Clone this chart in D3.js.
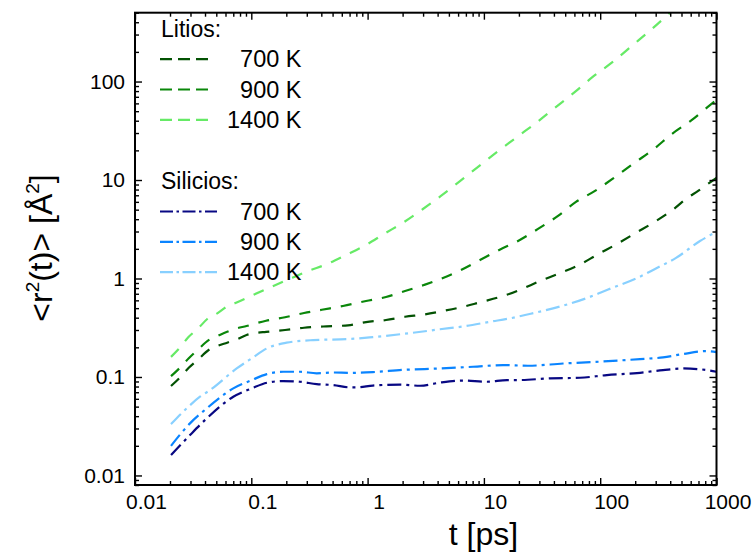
<!DOCTYPE html>
<html>
<head>
  <title>MSD</title>
  <script src="https://d3js.org/d3.v7.min.js"></script>
  <style>
    body { margin: 0; background: #fff; }
    text { font-family: "Liberation Sans", Arial, sans-serif; fill: #000; }
  </style>
</head>
<body>
  <div id="chart"></div>

  <script>
    // Li (dashed) and Si (dash-dot) mean square displacement, [t (ps), <r2> (A^2)]
    const li700 = [[0.0204,0.081],[0.024,0.097],[0.029,0.124],[0.035,0.151],[0.043,0.188],[0.051,0.206],[0.062,0.223],[0.075,0.241],[0.091,0.267],[0.11,0.28],[0.134,0.287],[0.195,0.300],[0.284,0.316],[0.443,0.327],[0.678,0.334],[0.969,0.361],[1.44,0.379],[2.10,0.409],[3.05,0.431],[4.45,0.468],[6.48,0.513],[9.44,0.577],[14.0,0.653],[20.2,0.764],[30.1,0.937],[44.0,1.12],[64.9,1.36],[94.8,1.75],[139,2.24],[203,2.91],[302,3.84],[431,5.1],[554,6.5],[700,7.8],[850,9.2],[1000,10.5]];
    const li900 = [[0.0204,0.102],[0.024,0.122],[0.029,0.155],[0.035,0.191],[0.043,0.237],[0.051,0.26],[0.062,0.288],[0.075,0.312],[0.091,0.329],[0.11,0.351],[0.134,0.372],[0.195,0.404],[0.284,0.446],[0.475,0.498],[0.614,0.526],[0.969,0.591],[1.44,0.649],[2.10,0.746],[3.05,0.859],[4.45,1.01],[6.35,1.22],[9.25,1.54],[13.8,1.97],[20.0,2.43],[29.2,3.19],[43.4,4.32],[61.9,5.99],[90.2,7.75],[134,10.7],[195,14.8],[290,20.7],[414,29.4],[615,40.8],[863,56.6],[1000,65]];
    const li1400 = [[0.0204,0.160],[0.024,0.195],[0.0287,0.253],[0.035,0.312],[0.0418,0.388],[0.051,0.443],[0.0614,0.517],[0.074,0.568],[0.099,0.664],[0.199,0.955],[0.307,1.19],[0.448,1.40],[0.652,1.73],[0.969,2.19],[1.38,2.83],[2.06,3.75],[2.99,5.08],[4.27,6.89],[6.11,9.57],[8.91,13.6],[13.0,19.3],[19.3,27.4],[28.1,38.0],[40.8,54.1],[60.7,78.5],[86.7,112],[129,159],[188,231],[273,335],[398,499],[1000,1300]];
    const si700 = [[0.0204,0.0161],[0.0297,0.0257],[0.0414,0.038],[0.070,0.063],[0.101,0.0766],[0.136,0.0873],[0.188,0.0909],[0.262,0.0894],[0.365,0.0847],[0.507,0.0827],[0.706,0.0784],[0.811,0.0784],[1.11,0.0818],[1.90,0.0837],[2.82,0.0815],[4.19,0.0877],[6.61,0.0919],[10.6,0.0894],[15.8,0.093],[20.4,0.0931],[37.0,0.0968],[67.0,0.0982],[114,0.1045],[207,0.1096],[347,0.1175],[515,0.122],[828,0.1175],[1000,0.113]];
    const si900 = [[0.0204,0.020],[0.0297,0.0338],[0.0414,0.048],[0.070,0.0766],[0.101,0.093],[0.136,0.107],[0.188,0.113],[0.262,0.113],[0.365,0.109],[0.507,0.111],[0.706,0.110],[1.11,0.112],[2.01,0.118],[4.19,0.122],[8.06,0.127],[14.6,0.132],[23.9,0.130],[47.9,0.137],[99.5,0.143],[220,0.152],[347,0.158],[515,0.171],[813,0.183],[1000,0.179]];
    const si1400 = [[0.0204,0.0332],[0.0278,0.048],[0.0362,0.063],[0.0442,0.0736],[0.0749,0.122],[0.101,0.155],[0.136,0.195],[0.201,0.223],[0.341,0.237],[0.706,0.243],[1.11,0.254],[2.32,0.279],[4.19,0.305],[7.01,0.329],[11.3,0.364],[16.8,0.394],[22.6,0.426],[46.9,0.526],[77.0,0.634],[117,0.773],[211,1.02],[296,1.25],[449,1.62],[721,2.40],[1000,2.99]];

    const xTicks = [0.01, 0.1, 1, 10, 100, 1000];
    const xTickLabels = ["0.01", "0.1", "1", "10", "100", "1000"];
    const yTicks = [0.01, 0.1, 1, 10, 100];
    const yTickLabels = ["0.01", "0.1", "1", "10", "100"];

    const liLabels = ["700 K", "900 K", "1400 K"];
    const siLabels = ["700 K", "900 K", "1400 K"];

    const series = [
      { data: li700, color: "#035203", dash: "11,10" },
      { data: li900, color: "#0a870a", dash: "11,10" },
      { data: li1400, color: "#66ea66", dash: "11,10" },
      { data: si1400, color: "#88d0ff", dash: "14,5,3,5" },
      { data: si900, color: "#0a84ff", dash: "14,5,3,5" },
      { data: si700, color: "#080883", dash: "14,5,3,5" },
    ];

    const width = 753;
    const height = 557;
    const margin = { top: 12.7, right: 36.5, bottom: 72, left: 135 };

    const svg = d3.select("#chart")
      .append("svg")
      .attr("width", width)
      .attr("height", height);

    const x = d3.scaleLog()
      .domain([0.01, 1000])
      .range([margin.left, width - margin.right]);

    const y = d3.scaleLog()
      .domain([0.008, 500])
      .range([height - margin.bottom, margin.top]);

    // minor ticks 2..9 of each decade inside the domain
    function minors(scale) {
      const [a, b] = scale.domain();
      const out = [];
      for (let e = -3; e <= 3; e++) {
        for (let m = 2; m <= 9; m++) {
          const v = m * Math.pow(10, e);
          if (v >= a * 0.999 && v <= b * 1.001) out.push(v);
        }
      }
      return out;
    }

    const x0 = margin.left, x1 = width - margin.right;
    const y0 = margin.top, y1 = height - margin.bottom;

    // clipped curves
    svg.append("clipPath").attr("id", "clip")
      .append("rect")
      .attr("x", x0).attr("y", y0)
      .attr("width", x1 - x0).attr("height", y1 - y0);

    const line = d3.line()
      .x(d => x(d[0]))
      .y(d => y(d[1]))
      .curve(d3.curveMonotoneX);

    svg.append("g")
      .attr("clip-path", "url(#clip)")
      .selectAll("path")
      .data(series)
      .join("path")
      .attr("d", d => line(d.data))
      .attr("fill", "none")
      .attr("stroke", d => d.color)
      .attr("stroke-width", 2.2)
      .attr("stroke-dasharray", d => d.dash);

    // axes: ticks point inward on all four sides
    function drawAxis(gen, tx, ty) {
      const g = svg.append("g")
        .attr("transform", `translate(${tx},${ty})`)
        .call(gen);
      g.select(".domain").remove();
      g.selectAll(".tick line").attr("stroke", "#000").attr("stroke-width", 1.4);
      return g;
    }

    const xBottom = drawAxis(
      d3.axisBottom(x).tickValues(xTicks).tickSize(-7).tickPadding(9)
        .tickFormat((d, i) => xTickLabels[i]), 0, y1);
    xBottom.selectAll("text").attr("font-size", 21).attr("dx", 11);
    drawAxis(d3.axisBottom(x).tickValues(minors(x)).tickSize(-4).tickFormat(""), 0, y1);
    drawAxis(d3.axisTop(x).tickValues(xTicks).tickSize(-7).tickFormat(""), 0, y0);
    drawAxis(d3.axisTop(x).tickValues(minors(x)).tickSize(-4).tickFormat(""), 0, y0);

    const yLeft = drawAxis(
      d3.axisLeft(y).tickValues(yTicks).tickSize(-7).tickPadding(10)
        .tickFormat((d, i) => yTickLabels[i]), x0, 0);
    yLeft.selectAll("text").attr("font-size", 21);
    drawAxis(d3.axisLeft(y).tickValues(minors(y)).tickSize(-4).tickFormat(""), x0, 0);
    drawAxis(d3.axisRight(y).tickValues(yTicks).tickSize(-7).tickFormat(""), x1, 0);
    drawAxis(d3.axisRight(y).tickValues(minors(y)).tickSize(-4).tickFormat(""), x1, 0);

    svg.append("rect")
      .attr("x", x0).attr("y", y0)
      .attr("width", x1 - x0).attr("height", y1 - y0)
      .attr("fill", "none")
      .attr("stroke", "#000")
      .attr("stroke-width", 2);

    // axis titles
    svg.append("text")
      .attr("x", 483.5)
      .attr("y", 545)
      .attr("text-anchor", "middle")
      .attr("font-size", 32)
      .text("t [ps]");

    const yt = svg.append("text")
      .attr("transform", "translate(52,248) rotate(-90)")
      .attr("text-anchor", "middle")
      .attr("font-size", 32);
    yt.append("tspan").text("<r");
    yt.append("tspan").attr("font-size", 19).attr("dy", -13).text("2");
    yt.append("tspan").attr("dy", 13).text("(t)> [Å");
    yt.append("tspan").attr("font-size", 19).attr("dy", -13).text("2");
    yt.append("tspan").attr("dy", 13).text("]");

    // legend
    const legend = svg.append("g");
    function legendBlock(title, titleY, rows, labels, lineLen, dash) {
      legend.append("text")
        .attr("x", 161).attr("y", titleY)
        .attr("font-size", 23)
        .text(title);
      rows.forEach((s, i) => {
        const ly = titleY + 22.5 + i * 30.3;
        legend.append("line")
          .attr("x1", 160).attr("x2", 160 + lineLen)
          .attr("y1", ly).attr("y2", ly)
          .attr("stroke", s.color)
          .attr("stroke-width", 2.2)
          .attr("stroke-dasharray", dash);
        legend.append("text")
          .attr("x", 301.5).attr("y", ly + 8)
          .attr("text-anchor", "end")
          .attr("font-size", 23.5)
          .text(labels[i]);
      });
    }
    legendBlock("Litios:", 36.7, series.slice(0, 3), liLabels, 48, "12,6");
    legendBlock("Silicios:", 189, [series[5], series[4], series[3]], siLabels, 57, "13,3.5,2.5,3.5");
  </script>
</body>
</html>
